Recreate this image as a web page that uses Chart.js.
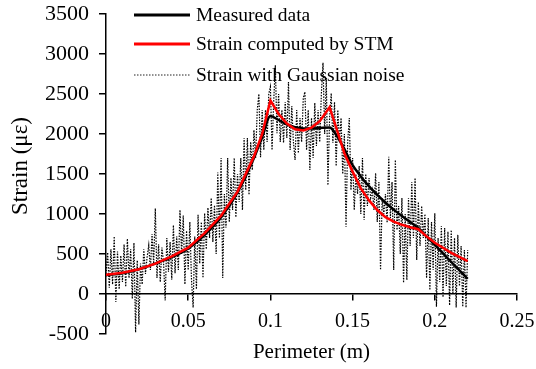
<!DOCTYPE html>
<html>
<head>
<meta charset="utf-8">
<script src="https://cdn.jsdelivr.net/npm/chart.js@4/dist/chart.umd.min.js"></script>
<style>
html,body{margin:0;padding:0;background:#fff;}
#wrap{width:536px;height:369px;position:relative;}
</style>
</head>
<body>
<div id="wrap"><canvas id="c"></canvas></div>
<script>
// ---- data ----
const curveX = [0,0.01,0.02,0.03,0.04,0.05,0.06,0.07,0.08,0.09,0.095,0.1,0.105,0.11,0.115,0.12,0.125,0.13,0.136,0.14,0.145,0.15,0.155,0.16,0.165,0.17,0.175,0.18,0.185,0.19,0.195,0.2,0.21,0.22];
const measured = [235,260,310,380,460,570,740,960,1270,1700,1960,2225,2175,2120,2085,2070,2070,2075,2080,1990,1810,1610,1470,1345,1240,1140,1055,975,900,825,720,615,400,190];
const computed = [240,265,310,380,470,580,760,980,1280,1720,2000,2420,2250,2130,2060,2045,2080,2160,2335,2080,1760,1530,1320,1170,1050,960,905,865,835,810,720,640,515,410];
const noiseStep = 0.001;
const noisy = [
 250,520,80,560,120,720,-100,530,60,480,
 150,620,90,690,200,560,-60,640,-480,420,
 -380,380,120,560,250,460,610,300,750,380,
 1070,200,620,150,580,400,-80,700,280,650,
 180,860,260,720,300,1050,500,980,120,790,
 300,900,180,-170,720,60,990,380,900,200,
 1010,560,1080,700,1200,650,1110,500,1520,700,
 1700,200,1250,830,1700,900,1450,1050,1700,960,
 1500,1150,1700,1050,1950,1300,1950,1240,1900,1550,
 2050,1700,2300,2500,1710,2300,1800,2300,1900,2500,
 2590,1800,2400,2860,2010,2500,1900,2300,1890,2400,
 1950,2650,1800,2350,1900,1675,2300,1760,2200,1900,
 2450,2525,1800,2300,1550,2200,1700,2390,1850,2300,
 1900,2500,2890,2000,2700,1360,2200,2510,1890,2400,
 1600,2300,1900,2200,1500,2000,840,1900,2200,1300,
 1700,1050,1500,1250,1600,1000,1700,925,1500,1100,
 1450,1200,1300,1050,1510,900,1400,300,1200,1000,
 1250,890,1715,950,1400,300,1675,800,1100,500,
 1200,140,1000,175,1200,600,1400,700,1450,425,
 1150,600,1100,700,1000,200,950,50,900,300,
 1010,-160,700,150,850,-40,825,100,780,-140,
 800,0,700,-170,740,100,600,-160,550,-170,550
];
const legendLabels = ['Measured data','Strain computed by STM','Strain with Gaussian noise'];
const xTitle = 'Perimeter (m)';
const yTitle = 'Strain (\u03bc\u03b5)';

const pts = (xs, ys) => ys.map((v, i) => ({x: xs[i], y: v}));
const noisyPts = noisy.map((v, i) => ({x: Math.round(i * noiseStep * 1000) / 1000, y: v}));

const FONT = "'Liberation Serif', 'Times New Roman', serif";

const overlay = {
  id: 'overlay',
  afterDraw(chart) {
    const ctx = chart.ctx;
    ctx.save();
    const items = [
      {color: '#000', width: 3, dash: []},
      {color: '#ff0000', width: 3, dash: []},
      {color: '#222', width: 1, dash: [1.5, 1.5]}
    ];
    const ys = [15, 44, 75];
    ctx.font = '19.5px ' + FONT;
    ctx.textBaseline = 'middle';
    ctx.textAlign = 'left';
    items.forEach((it, i) => {
      ctx.beginPath();
      ctx.strokeStyle = it.color;
      ctx.lineWidth = it.width;
      ctx.setLineDash(it.dash);
      ctx.moveTo(134, ys[i]);
      ctx.lineTo(190, ys[i]);
      ctx.stroke();
      ctx.setLineDash([]);
      ctx.fillStyle = '#000';
      ctx.fillText(legendLabels[i], 196, ys[i] + 1);
    });
    ctx.font = '21px ' + FONT;
    ctx.textAlign = 'center';
    ctx.fillText(xTitle, (chart.chartArea.left + chart.chartArea.right) / 2, 352);
    ctx.font = '23px ' + FONT;
    ctx.translate(21, 166);
    ctx.rotate(-Math.PI / 2);
    ctx.fillText(yTitle, 0, 0);
    ctx.restore();
  }
};

new Chart(document.getElementById('c'), {
  type: 'line',
  data: {
    datasets: [
      {label: legendLabels[1], data: pts(curveX, computed), borderColor: '#ff0000', borderWidth: 2.5, pointRadius: 0, tension: 0, order: 0},
      {label: legendLabels[0], data: pts(curveX, measured), borderColor: '#000', borderWidth: 2.5, pointRadius: 0, cubicInterpolationMode: 'monotone', order: 1},
      {label: legendLabels[2], data: noisyPts, borderColor: '#000', borderWidth: 1.2, borderDash: [1.5, 1.3], pointRadius: 0, tension: 0, order: 2}
    ]
  },
  options: {
    responsive: true,
    maintainAspectRatio: false,
    animation: false,
    layout: {padding: {left: 0, right: 19, top: 14, bottom: 35}},
    plugins: {legend: {display: false}, tooltip: {enabled: false}},
    scales: {
      x: {
        type: 'linear',
        position: {y: 0},
        min: 0, max: 0.25,
        afterFit: s => { s.paddingLeft = 0; s.paddingRight = 0; s.paddingTop = 0; s.paddingBottom = 0; },
        ticks: {stepSize: 0.05, color: '#000', font: {family: FONT, size: 20}, padding: 10,
          callback: v => String(Math.round(v * 100) / 100), maxRotation: 0},
        grid: {drawOnChartArea: false, color: '#000', lineWidth: 1.5, tickLength: 6},
        border: {color: '#000', width: 1.5}
      },
      y: {
        min: -500, max: 3500,
        afterFit: s => { s.width = 106; s.paddingTop = 0; s.paddingBottom = 0; s.paddingLeft = 0; s.paddingRight = 0; },
        ticks: {stepSize: 500, color: '#000', font: {family: FONT, size: 22}, padding: 10,
          callback: v => String(v)},
        grid: {drawOnChartArea: false, color: '#000', lineWidth: 1.5, tickLength: 7},
        border: {color: '#000', width: 1.5}
      }
    }
  },
  plugins: [overlay]
});
</script>
</body>
</html>
